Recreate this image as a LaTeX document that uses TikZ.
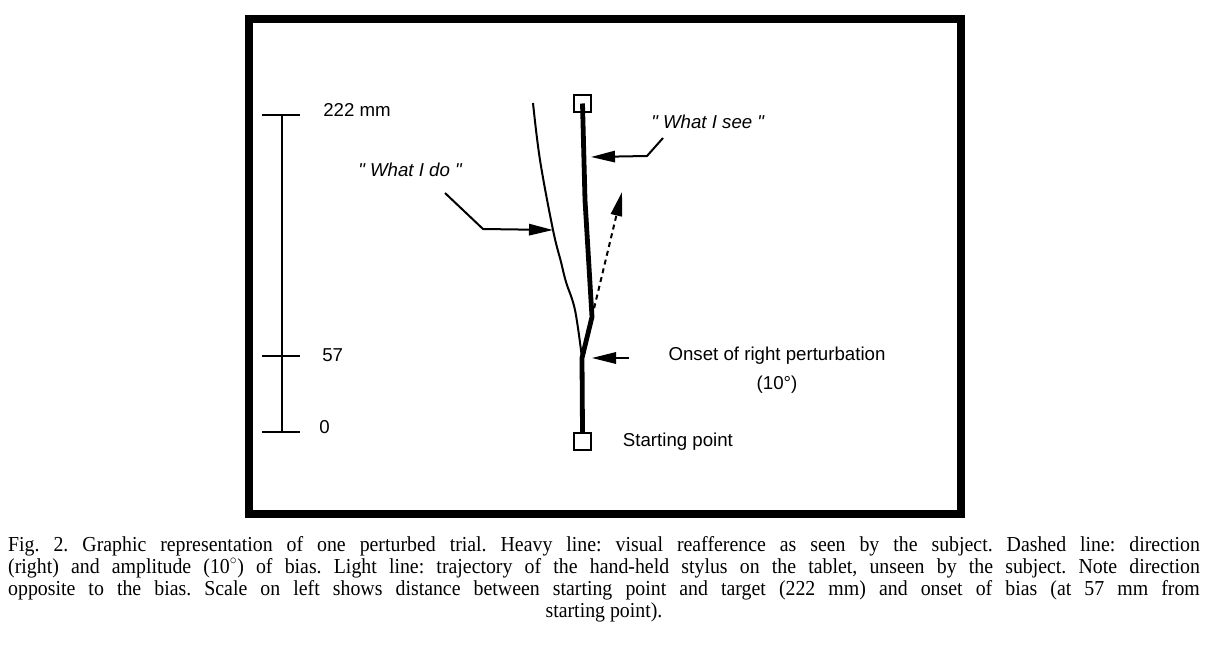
\documentclass[tikz,border=0pt]{standalone}
\usepackage{fontspec}
\setmainfont{Liberation Serif}
\setsansfont{Liberation Sans}
\newfontfamily\saysf{Liberation Sans}
\usetikzlibrary{positioning,arrows.meta}
\definecolor{ptInk}{HTML}{000000}
\definecolor{ptPaper}{HTML}{FFFFFF}
\tikzset{
  pt-frame/.style={draw=ptInk, line width=6pt},
  pt-scale/.style={draw=ptInk, line width=1.5pt},
  pt-text/.style={font=\fontsize{14}{17}\selectfont\sffamily, text=ptInk,
    inner sep=0pt},
  pt-say/.style={pt-text, font=\fontsize{14}{17}\selectfont\saysf\itshape},
  pt-box/.style={draw=ptInk, line width=1.5pt, fill=ptPaper,
    minimum size=12.75pt, inner sep=0pt},
  pt-heavy/.style={draw=ptInk, line width=3.6pt, line join=round},
  pt-light/.style={draw=ptInk, line width=1.5pt},
  pt-lead/.style={-{Triangle[length=18pt, width=8.5pt]}, draw=ptInk,
    line width=1.5pt},
  pt-bias/.style={pt-lead, dash pattern=on 3.75pt off 3pt},
  pt-caption/.style={font=\fontsize{16}{16.5}\selectfont\rmfamily,
    text=ptInk, inner sep=0pt}
}

\begin{document}
\begin{tikzpicture}[x=0.75pt, y=-0.75pt]
\useasboundingbox[fill=ptPaper] (0,0) rectangle (1208,645);
% frame
\draw[pt-frame] (249,19) rectangle (961,514);

% scale on the left
\coordinate (s222) at (282,115);
\coordinate (s57) at (282,356);
\coordinate (s0) at (282,432);
\draw[pt-scale] (s222) -- (s0);
\foreach \t in {s222,s57,s0}
  \draw[pt-scale] ([xshift=-15pt]\t) -- ([xshift=13.5pt]\t);
\node[pt-text, anchor=west] (l222) at (323,110) {222 mm};
\node[pt-text, anchor=west] (l57) at (322,355) {57};
\node[pt-text, anchor=west] (l0) at (319,427) {0};

% target and start
\node[pt-box] (target) at (582.5,103.5) {};
\node[pt-box] (start) at (582.5,441.5) {};
\node[pt-text, anchor=west, right=23pt of start] (startlbl) {Starting point};

% trajectories
\coordinate (bend) at (592,317);
\coordinate (onset) at (582,358);
\coordinate (biastip) at (622,192);
\draw[pt-light] plot[smooth, tension=0.6] coordinates
  {(onset) (575,310) (566,282) (561,262) (553,230) (540,160) (533,103)};
\draw[pt-heavy] (target.center) -- (585,200) -- (bend) -- (onset)
  -- (start.north);
\draw[pt-bias] (bend) -- (biastip);

% labels
\node[pt-say, anchor=west] (see) at (651,122) {" What I see "};
\node[pt-say, anchor=west] (do) at (358,170) {" What I do "};
\node[pt-text, align=center, font=\fontsize{14}{21.75}\selectfont\sffamily]
  (onsetlbl) at (777,370) {Onset of right perturbation\\(10°)};

% leaders
\coordinate (seefrom) at (663,138);
\coordinate (seeknee) at (647,156);
\coordinate (seetip) at (591,157);
\draw[pt-lead] (seefrom) -- (seeknee) -- (seetip);
\coordinate (dofrom) at (445,193);
\coordinate (doknee) at (483,229);
\coordinate (dotip) at (553,230);
\draw[pt-lead] (dofrom) -- (doknee) -- (dotip);
\coordinate (onsetfrom) at (629,358);
\draw[pt-lead] (onsetfrom) -- ([xshift=7.5pt]onset);

% caption
\node[pt-caption, anchor=north] (caption) at (604,536)
  {\scalebox{0.93}[1]{\parbox{961pt}{%
  \frenchspacing \hyphenpenalty=10000 \emergencystretch=20pt
  \leftskip=0pt plus .5fil \rightskip=0pt plus -.5fil
  \parfillskip=0pt plus 1fil
  Fig. 2. Graphic representation of one perturbed trial. Heavy line: visual
  reafference as seen by the subject. Dashed line: direction\linebreak{} (right) and
  amplitude (10$^\circ$) of bias. Light line: trajectory of the hand-held
  stylus on the tablet, unseen by the subject. Note direction\linebreak{} opposite to
  the bias. Scale on left shows distance between starting point and target
  (222 mm) and onset of bias (at 57 mm from\linebreak{} starting point).\par}}};
\end{tikzpicture}
\end{document}
